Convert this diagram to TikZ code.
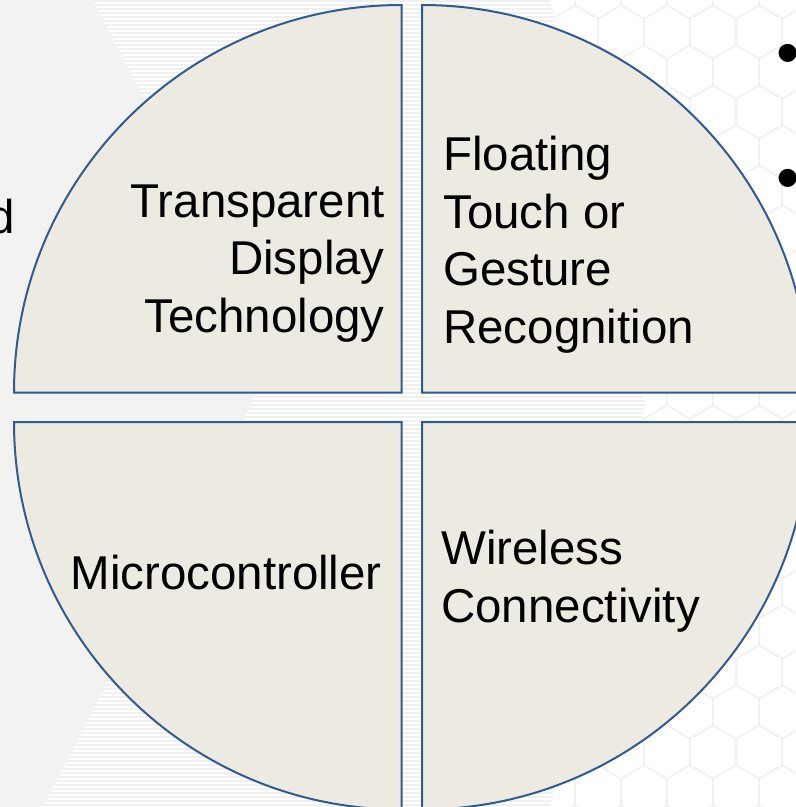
\documentclass[tikz,border=0pt]{standalone}
\usepackage{fontspec}
\setmainfont{Liberation Sans}
\usepackage{tikz}
\usetikzlibrary{positioning}
\definecolor{edge}   {HTML}{2F5A92}
\definecolor{sand}   {HTML}{EDEBE1}
\definecolor{slate}  {HTML}{F2F3F0}
\definecolor{hexline}{HTML}{F0F0F0}
\definecolor{stripe} {HTML}{EFF0F0}

\begin{document}
\begin{tikzpicture}[x=0.75pt, y=-0.75pt, font=\fontsize{35.6}{43.1}\selectfont,
    quad/.style={draw=edge, fill=sand, line width=1.5pt},
    lbl/.style={inner sep=0pt}]
  \useasboundingbox (0,0) rectangle (796,807);
  \begin{scope}
    \clip (0,0) rectangle (796,807);
    \fill[white] (0,0) rectangle (796,807);
    \foreach \r in {0,...,21} {
      \foreach \c in {0,...,18} {
        \pgfmathsetmacro{\hx}{\c*46 + mod(\r,2)*23}
        \pgfmathsetmacro{\hy}{\r*40 - 8}
        \draw[hexline, line width=0.9pt] (\hx,\hy) +(-23,-13.25) -- +(0,-26.5) -- +(23,-13.25)
          -- +(23,13.25) -- +(0,26.5) -- +(-23,13.25) -- cycle;
      }
    }
    \fill[white] (93,0) -- (550,0) -- (645,405) -- (550,807) -- (43,807) -- (276,355) -- cycle;
    \begin{scope}
      \clip (93,0) -- (550,0) -- (645,405) -- (550,807) -- (43,807) -- (276,355) -- cycle;
      \foreach \y in {1,5,...,807} \draw[stripe, line width=1.6pt] (0,\y) -- (796,\y);
    \end{scope}
    \fill[slate] (0,0) -- (93,0) -- (276,355) -- (43,807) -- (0,807) -- cycle;
  \end{scope}

  \draw[quad] (401.5,392.5) -- (14,392.5) arc[start angle=180, end angle=270, radius=387.5] -- cycle;
  \draw[quad] (422,392.5) -- (422,5) arc[start angle=270, end angle=360, radius=387.5] -- cycle;
  \draw[quad] (401.5,422) -- (401.5,809.5) arc[start angle=90, end angle=180, radius=387.5] -- cycle;
  \draw[quad] (422,422) -- (809.5,422) arc[start angle=0, end angle=90, radius=387.5] -- cycle;

  \node[lbl, align=right, anchor=base east] (display) at (385,332) {Transparent\\Display\\Technology};
  \node[lbl, align=left, anchor=base west] (gesture) at (443,343) {Floating\\Touch or\\Gesture\\Recognition};
  \node[lbl, anchor=base east] (mcu) at (382,589) {Microcontroller};
  \node[lbl, align=left, anchor=base west] (wireless) at (441,622) {Wireless\\Connectivity};
  \node[lbl, anchor=base east] (cut) at (15,233) {d};
  \node[lbl, font=\fontsize{50}{50}\selectfont] (dot1) at (788,60) {•};
  \node[lbl, font=\fontsize{50}{50}\selectfont] (dot2) at (788,185) {•};
\end{tikzpicture}
\end{document}
